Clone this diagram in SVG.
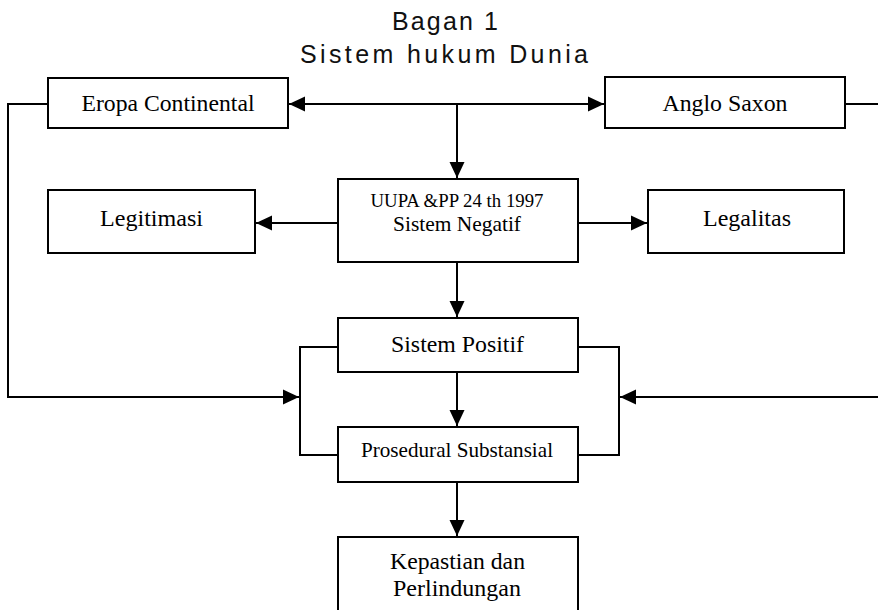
<svg xmlns="http://www.w3.org/2000/svg" width="878" height="610" viewBox="0 0 878 610">
<style>
.box{fill:#fff;stroke:#000;stroke-width:2}
.t{font-family:"Liberation Serif","Times New Roman",serif;font-size:24px;fill:#000;text-anchor:middle}
.title{font-family:"Liberation Sans",Arial,sans-serif;font-size:25px;fill:#111;text-anchor:middle}
.c{fill:none;stroke:#000;stroke-width:2}
</style>
<defs>
<marker id="ah" markerUnits="userSpaceOnUse" markerWidth="17" markerHeight="16" refX="16" refY="8" orient="auto-start-reverse" viewBox="0 0 17 16">
<path d="M0,0.5 L16,8 L0,15.5 z" fill="#000"/>
</marker>
</defs>
<rect width="878" height="610" fill="#fff"/>
<g id="title">
<text class="title" x="445" y="30" textLength="106" lengthAdjust="spacing">Bagan 1</text>
<text class="title" x="444" y="63" textLength="288" lengthAdjust="spacing">Sistem hukum Dunia</text>
</g>
<g id="connectors">
<line class="c" x1="289" y1="104" x2="604" y2="104" marker-start="url(#ah)" marker-end="url(#ah)"/>
<line class="c" x1="457" y1="104" x2="457" y2="178" marker-end="url(#ah)"/>
<polyline class="c" points="48,104 8,104 8,397 299,397" marker-end="url(#ah)"/>
<polyline class="c" points="845,104 880,104"/>
<polyline class="c" points="880,397 620,397" marker-end="url(#ah)"/>
<line class="c" x1="338" y1="223" x2="256" y2="223" marker-end="url(#ah)"/>
<line class="c" x1="578" y1="223" x2="647" y2="223" marker-end="url(#ah)"/>
<line class="c" x1="457" y1="262" x2="457" y2="317" marker-end="url(#ah)"/>
<line class="c" x1="457" y1="372" x2="457" y2="426" marker-end="url(#ah)"/>
<polyline class="c" points="338,347 300,347 300,455 338,455"/>
<polyline class="c" points="578,347 619,347 619,455 578,455"/>
<line class="c" x1="457" y1="482" x2="457" y2="536" marker-end="url(#ah)"/>
</g>
<g id="eropa">
<rect class="box" x="48" y="78" width="240" height="50"/>
<text class="t" x="168" y="111" textLength="173" lengthAdjust="spacingAndGlyphs">Eropa Continental</text>
</g>
<g id="anglo">
<rect class="box" x="605" y="77" width="240" height="51"/>
<text class="t" x="725" y="111" textLength="125" lengthAdjust="spacingAndGlyphs">Anglo Saxon</text>
</g>
<g id="legitimasi">
<rect class="box" x="48" y="190" width="207" height="63"/>
<text class="t" x="151.5" y="226" textLength="103" lengthAdjust="spacingAndGlyphs">Legitimasi</text>
</g>
<g id="uupa">
<rect class="box" x="338" y="179" width="240" height="83"/>
<text class="t" x="457" y="207" style="font-size:18.5px" textLength="173" lengthAdjust="spacingAndGlyphs">UUPA &amp;PP 24 th 1997</text>
<text class="t" x="457" y="231" style="font-size:21px" textLength="128" lengthAdjust="spacingAndGlyphs">Sistem Negatif</text>
</g>
<g id="legalitas">
<rect class="box" x="648" y="190" width="196" height="63"/>
<text class="t" x="747" y="226" textLength="88" lengthAdjust="spacingAndGlyphs">Legalitas</text>
</g>
<g id="positif">
<rect class="box" x="338" y="318" width="240" height="54"/>
<text class="t" x="457.5" y="352" textLength="133" lengthAdjust="spacingAndGlyphs">Sistem Positif</text>
</g>
<g id="prosedural">
<rect class="box" x="338" y="427" width="240" height="55"/>
<text class="t" x="457" y="457" style="font-size:21px" textLength="192" lengthAdjust="spacingAndGlyphs">Prosedural Substansial</text>
</g>
<g id="kepastian">
<rect class="box" x="338" y="537" width="240" height="80"/>
<text class="t" x="457.5" y="569" textLength="135" lengthAdjust="spacingAndGlyphs">Kepastian dan</text>
<text class="t" x="457" y="596" textLength="128" lengthAdjust="spacingAndGlyphs">Perlindungan</text>
</g>
</svg>
